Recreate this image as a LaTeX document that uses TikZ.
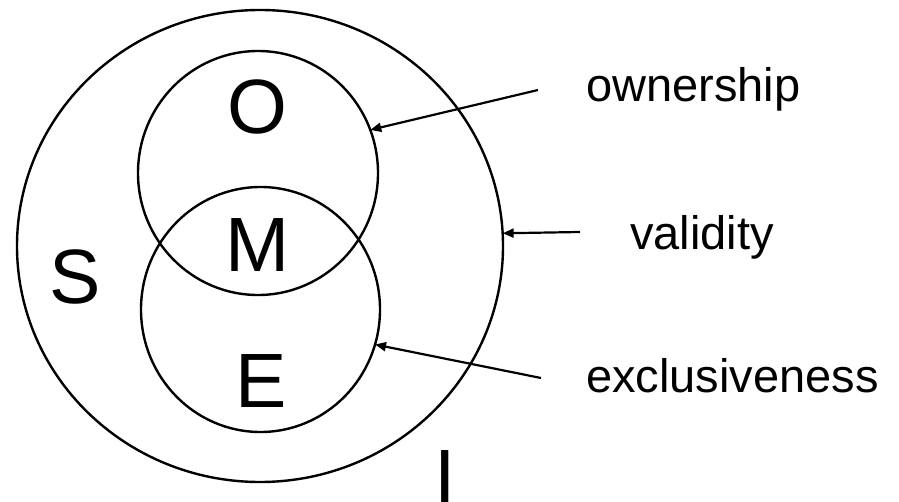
\documentclass[tikz,border=0pt]{standalone}
\usepackage{fontspec}
\setmainfont{Liberation Sans}
\usetikzlibrary{shapes.geometric,arrows.meta}
\begin{document}
\begin{tikzpicture}[x=1pt,y=-1pt,
  ring/.style={draw,ellipse,line width=2.4pt,inner sep=0pt,outer sep=0pt},
  big/.style={font=\fontsize{77}{77}\selectfont,inner sep=0pt,anchor=base},
  lab/.style={font=\fontsize{47}{47}\selectfont,inner sep=0pt,anchor=base west},
  arr/.style={line width=2.2pt,-{Triangle[length=11pt,width=9pt]}}]
\useasboundingbox (0,0) rectangle (899,502);
\node[ring,minimum width=486pt,minimum height=472pt] (outer) at (260,246) {};
\node[ring,minimum width=240pt,minimum height=244pt] (up) at (258,173) {};
\node[ring,minimum width=239pt,minimum height=245pt] (low) at (260.5,309.5) {};
\node[big] (O) at (257,134) {O};
\node[big] (M) at (258,272) {M};
\node[big] (S) at (75,304) {S};
\node[big] (E) at (261,407) {E};
\node[big] (I) at (445,503) {I};
\node[lab] (own) at (586,102) {ownership};
\node[lab] (val) at (630,250) {validity};
\node[lab] (exc) at (586,392) {exclusiveness};
\coordinate (a1) at (538,90);
\coordinate (a2) at (580,232);
\coordinate (a3) at (541,378);
\draw[arr] (a1) -- (up.21);
\draw[arr] (a2) -- (outer.3.3);
\draw[arr] (a3) -- (low.-17);
\end{tikzpicture}
\end{document}
